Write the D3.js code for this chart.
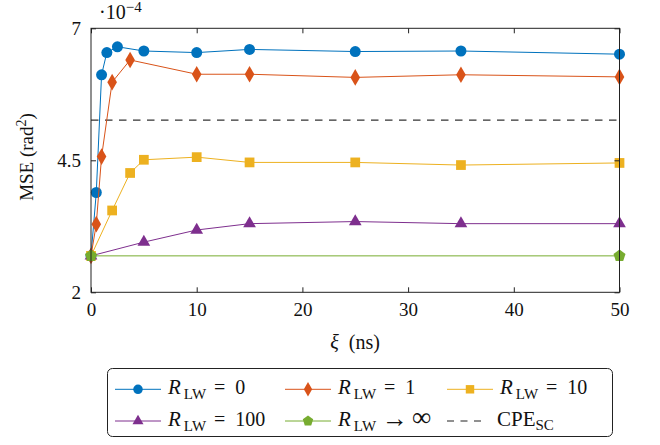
<!DOCTYPE html>
<html><head><meta charset="utf-8">
<script src="https://cdn.jsdelivr.net/npm/d3@7"></script>
<style>
body{margin:0;background:#fff;}
text{font-family:"Liberation Serif","DejaVu Serif",serif;fill:#111;}
</style></head>
<body><svg id="c" width="660" height="445"></svg>
<script>
// ---- data ----
const xBlue   = [0, 0.5, 1, 1.5, 2.5, 5, 10, 15, 25, 35, 50];
const yBlue   = [2.69, 3.89, 6.12, 6.54, 6.65, 6.57, 6.54, 6.60, 6.56, 6.57, 6.51];
const xOrange = [0, 0.5, 1, 2, 3.7, 10, 15, 25, 35, 50];
const yOrange = [2.69, 3.29, 4.57, 5.98, 6.40, 6.13, 6.13, 6.07, 6.12, 6.08];
const xYellow = [0, 2, 3.7, 5, 10, 15, 25, 35, 50];
const yYellow = [2.69, 3.55, 4.26, 4.51, 4.56, 4.46, 4.46, 4.41, 4.45];
const xPurple = [0, 5, 10, 15, 25, 35, 50];
const yPurple = [2.69, 2.95, 3.18, 3.30, 3.34, 3.30, 3.30];
const xGreen  = [0, 50];
const yGreen  = [2.69, 2.69];
const cpeSC   = 5.26;
const xTicks  = [0, 10, 20, 30, 40, 50];
const yTicks  = [2, 4.5, 7];
const yTickLabels = ["2", "4.5", "7"];

const svg = d3.select("#c");
const L = 91, R = 619.5, T = 28.3, B = 292.3;
const x = d3.scaleLinear().domain([0, 50]).range([L, R]);
const y = d3.scaleLinear().domain([2, 7]).range([B, T]);

// pentagon symbol
const pentagon = {draw(ctx, size){
  const r = Math.sqrt(size / 2.3776);
  for (let i = 0; i < 5; i++){
    const a = -Math.PI/2 + i*2*Math.PI/5;
    const px = r*Math.cos(a), py = r*Math.sin(a);
    i ? ctx.lineTo(px, py) : ctx.moveTo(px, py);
  }
  ctx.closePath();
}};

const series = [
  {xs:xBlue, ys:yBlue, color:"#0072BD", sym:d3.symbolCircle, size:95, lab:"0"},
  {xs:xOrange, ys:yOrange, color:"#D95319", sym:d3.symbolDiamond, size:80, lab:"1"},
  {xs:xYellow, ys:yYellow, color:"#EDB120", sym:d3.symbolSquare, size:95, lab:"10"},
  {xs:xPurple, ys:yPurple, color:"#7E2F8E", sym:d3.symbolTriangle, size:70, lab:"100"},
  {xs:xGreen, ys:yGreen, color:"#77AC30", sym:pentagon, size:95, lab:"inf"}
];

// dashed reference
svg.append("line").attr("x1", x(0)).attr("x2", x(50)).attr("y1", y(cpeSC)).attr("y2", y(cpeSC))
  .attr("stroke", "#333").attr("stroke-width", 1.1).attr("stroke-dasharray", "7.5,6.5");

const line = d3.line().x(d => x(d[0])).y(d => y(d[1]));
series.forEach(s => {
  const pts = s.xs.map((v, i) => [v, s.ys[i]]);
  svg.append("path").attr("d", line(pts)).attr("fill", "none").attr("stroke", s.color).attr("stroke-width", 1);
  svg.selectAll(null).data(pts).enter().append("path")
    .attr("d", d3.symbol().type(s.sym).size(s.size))
    .attr("transform", d => `translate(${x(d[0])},${y(d[1])})`)
    .attr("fill", s.color);
});

// frame & ticks
const axG = svg.append("g");
axG.append("rect").attr("x", L).attr("y", T).attr("width", R - L).attr("height", B - T)
  .attr("fill", "none").attr("stroke", "#222").attr("stroke-width", 1);
const xb = d3.axisBottom(x).tickValues(xTicks).tickSizeInner(-5).tickSizeOuter(0).tickPadding(10).tickFormat(d3.format("d"));
const gx = axG.append("g").attr("transform", `translate(0,${B})`).call(xb);
const xt = d3.axisTop(x).tickValues(xTicks).tickSizeInner(-5).tickSizeOuter(0).tickFormat("");
const gxt = axG.append("g").attr("transform", `translate(0,${T})`).call(xt);
const yl = d3.axisLeft(y).tickValues(yTicks).tickSizeInner(-5).tickSizeOuter(0).tickPadding(10).tickFormat((d, i) => yTickLabels[i]);
const gy = axG.append("g").attr("transform", `translate(${L},0)`).call(yl);
const yr = d3.axisRight(y).tickValues(yTicks).tickSizeInner(-5).tickSizeOuter(0).tickFormat("");
const gyr = axG.append("g").attr("transform", `translate(${R},0)`).call(yr);
[gx, gxt, gy, gyr].forEach(g => {
  g.select(".domain").remove();
  g.selectAll(".tick line").attr("stroke", "#222");
  g.selectAll("text").attr("font-size", 19).attr("fill", "#111");
});

// exponent
const ex = svg.append("text").attr("x", 99).attr("y", 19).attr("font-size", 20);
ex.append("tspan").text("·10");
ex.append("tspan").attr("dy", -7).attr("font-size", 15).text("−4");

// axis labels
const yLab = svg.append("text").attr("transform", "translate(33,157) rotate(-90)").attr("text-anchor", "middle").attr("font-size", 19);
yLab.append("tspan").text("MSE (rad");
yLab.append("tspan").attr("dy", -7).attr("font-size", 14).text("2");
yLab.append("tspan").attr("dy", 7).text(")");
const xLab = svg.append("text").attr("x", 355).attr("y", 349).attr("text-anchor", "middle").attr("font-size", 20);
xLab.append("tspan").attr("font-style", "italic").text("ξ");
xLab.append("tspan").text("\u2002(ns)");

// legend
const lg = svg.append("g");
lg.append("rect").attr("x", 107.5).attr("y", 368.5).attr("width", 505).attr("height", 68).attr("rx", 5)
  .attr("fill", "#fff").attr("stroke", "#222").attr("stroke-width", 1);
const cols = [115, 285, 447];
const rows = [389.3, 421];
const entries = [
  {s:series[0], c:0, r:0}, {s:series[1], c:1, r:0}, {s:series[2], c:2, r:0},
  {s:series[3], c:0, r:1}, {s:series[4], c:1, r:1}
];
function rlw(t, op, val){
  t.append("tspan").attr("font-style", "italic").attr("font-size", 21).text("R");
  t.append("tspan").attr("dx", 3).attr("dy", 5).attr("font-size", 15).text("LW");
  if (op === "=") {
    t.append("tspan").attr("dx", 8).attr("dy", -5).text("=");
    t.append("tspan").attr("dx", 10).text(val);
  } else {
    t.append("tspan").attr("dx", 6).attr("dy", -4).attr("font-size", 26).text("→");
    t.append("tspan").attr("dx", 4).attr("dy", -1).attr("font-size", 27).text("∞");
  }
}
entries.forEach(e => {
  const x0 = cols[e.c], yy = rows[e.r];
  lg.append("line").attr("x1", x0).attr("x2", x0 + 46).attr("y1", yy).attr("y2", yy).attr("stroke", e.s.color).attr("stroke-width", 1);
  lg.append("path").attr("d", d3.symbol().type(e.s.sym).size(e.s.size * 0.75)).attr("transform", `translate(${x0 + 23},${yy})`).attr("fill", e.s.color);
  const t = lg.append("text").attr("x", x0 + 53).attr("y", yy + 5).attr("font-size", 20);
  if (e.s.lab === "inf") rlw(t, "→", "∞"); else rlw(t, "=", e.s.lab);
});
lg.append("line").attr("x1", cols[2]).attr("x2", cols[2] + 40).attr("y1", rows[1]).attr("y2", rows[1])
  .attr("stroke", "#222").attr("stroke-width", 1.1).attr("stroke-dasharray", "7,6.5");
const ct = lg.append("text").attr("x", 497).attr("y", rows[1] + 5).attr("font-size", 21);
ct.append("tspan").text("CPE");
ct.append("tspan").attr("dy", 4).attr("font-size", 15).text("SC");
</script></body></html>
